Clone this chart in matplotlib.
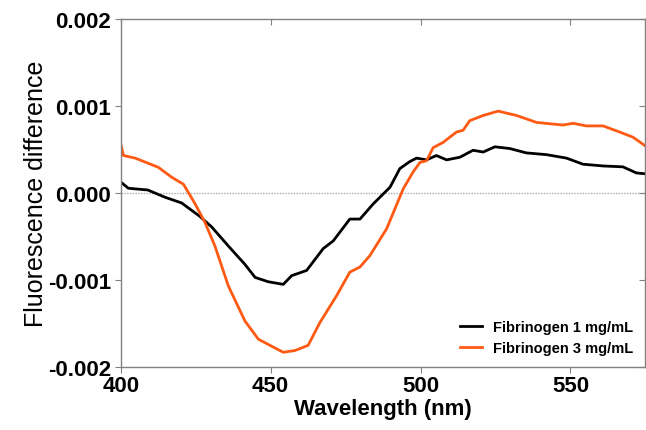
import numpy as np
import matplotlib.pyplot as plt

plt.rcParams['font.family'] = ['Liberation Sans', 'DejaVu Sans']

# Fibrinogen 1 mg/mL
wl_1 = [400, 402.5, 409, 414.8, 420.3, 426.4, 430.3, 435.9, 441.4, 444.8, 449.2, 454.2,
        457, 462, 467.5, 470.9, 476.4, 479.8, 484.2, 489.8, 493.1, 496.4, 498.7, 502,
        505.3, 508.7, 513.1, 517.5, 520.9, 524.8, 529.8, 535.3, 542, 548.7, 554.2,
        560.9, 567.5, 572, 575]
fd_1 = [0.000125, 0.000054, 0.000034, -0.00005, -0.000115, -0.00027, -0.00039, -0.00061,
        -0.00082, -0.00097, -0.00102, -0.00105, -0.00095, -0.00089, -0.00064, -0.00055,
        -0.0003, -0.0003, -0.000126, 0.000065, 0.00028, 0.00036, 0.0004, 0.00038,
        0.00043, 0.00038, 0.00041, 0.00049, 0.00047, 0.00053, 0.00051, 0.00046, 0.00044,
        0.0004, 0.00033, 0.00031, 0.0003, 0.00023, 0.00022]

# Fibrinogen 3 mg/mL
wl_3 = [400, 400.9, 404.8, 412.5, 417, 420.9, 424.8, 428.1, 431.4, 435.9, 441.4, 445.9,
        450.3, 454.2, 458.1, 462.5, 466.4, 472, 476.4, 479.8, 483.1, 488.7, 494.2,
        497.5, 499.8, 502, 504.2, 507.5, 512, 514.2, 516.4, 520.9, 525.9, 532, 538.7,
        547.5, 550.9, 555.3, 560.9, 566.4, 570.9, 575]
fd_3 = [0.00056, 0.00043, 0.0004, 0.000295, 0.00018, 0.0001, -0.000126, -0.00034,
        -0.00061, -0.00107, -0.00147, -0.00168, -0.00176, -0.00183, -0.00181, -0.00175,
        -0.00149, -0.00118, -0.00091, -0.00085, -0.00072, -0.00041, 0.000046, 0.00024,
        0.00035, 0.00037, 0.00052, 0.00058, 0.0007, 0.00072, 0.00083, 0.00089, 0.00094,
        0.00089, 0.00081, 0.00078, 0.0008, 0.00077, 0.00077, 0.0007, 0.00064, 0.00054]

fig = plt.figure(figsize=(6.46, 4.31), dpi=100)
ax = fig.add_axes([0.187, 0.146, 0.812, 0.808])

ax.axhline(0, color='#aaaaaa', linestyle=(0, (1, 1)), linewidth=1, zorder=1)
ax.plot(wl_1, fd_1, color='black', linewidth=2, label='Fibrinogen 1 mg/mL')
ax.plot(wl_3, fd_3, color='#ff5a14', linewidth=2, label='Fibrinogen 3 mg/mL')

ax.set_xlim(400, 575)
ax.set_ylim(-0.002, 0.002)
ax.set_xticks([400, 450, 500, 550])
ax.set_yticks([-0.002, -0.001, 0.0, 0.001, 0.002])
ax.set_yticklabels(['-0.002', '-0.001', '0.000', '0.001', '0.002'])

for s in ax.spines.values():
    s.set_color('#808080')
    s.set_linewidth(1)
ax.tick_params(axis='both', which='both', direction='out', length=4, color='#808080',
               labelsize=16, pad=3)
ax.tick_params(axis='x', pad=2)
ax.tick_params(axis='both', top=True, right=True)
for t in ax.xaxis.get_major_ticks():
    t.tick2line.set_marker(3)
for t in ax.yaxis.get_major_ticks():
    t.tick2line.set_marker(0)
for lab in ax.get_xticklabels() + ax.get_yticklabels():
    lab.set_fontweight('bold')

ax.set_xlabel('Wavelength (nm)', fontsize=16, fontweight='bold', labelpad=1)
ax.set_ylabel('Fluorescence difference', fontsize=18, labelpad=0)

leg = ax.legend(loc='lower right', frameon=False, handlelength=1.5,
                borderaxespad=0.4, labelspacing=0.5,
                prop={'weight': 'bold', 'size': 10.5})

fig.savefig('out.png', dpi=100)
